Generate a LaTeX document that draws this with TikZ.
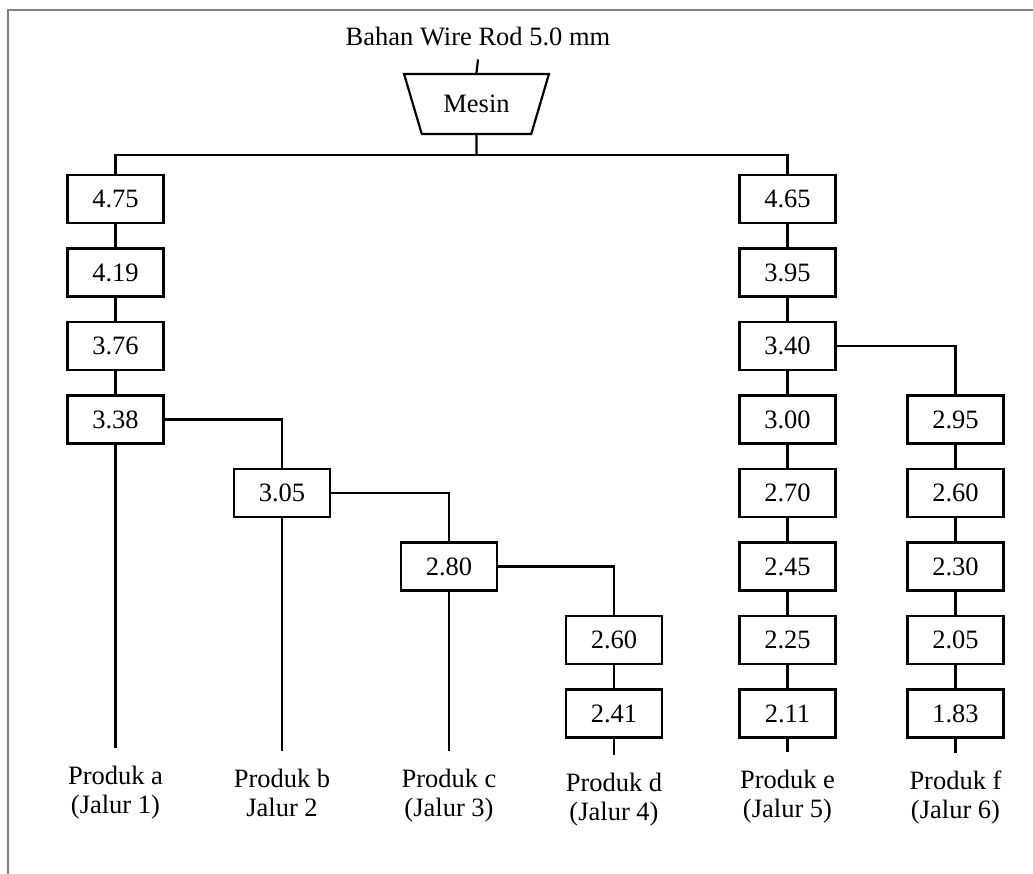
\documentclass[tikz,border=0pt]{standalone}
\usepackage{fontspec}
\setmainfont{Liberation Serif}
\usetikzlibrary{shapes,positioning}

\begin{document}
\begin{tikzpicture}[x=1pt, y=1pt,
sizenode/.style={rectangle, draw=black, line width=2.2pt, minimum width=96pt, minimum height=48pt, inner sep=0pt},
mesinnode/.style={trapezium, trapezium left angle=121, trapezium right angle=121, trapezium stretches=true, draw=black, line width=2.2pt, minimum width=145pt, minimum height=60pt, inner sep=0pt},
prodnode/.style={align=center, anchor=north, inner xsep=2pt, inner ysep=17pt},
every node/.style={font=\fontsize{26.5}{29}\selectfont},
node distance=23.3pt, line width=2.2pt
]
\useasboundingbox (0,0) rectangle (1033,-874);
% Frame
\draw[gray, line width=2.2pt] (1033,-10) -- (8,-10) -- (8,-874);
% Machine
%Nodes
\node[anchor=base, inner ysep=12pt] (bahan) at (478,-46) {Bahan Wire Rod 5.0 mm};
\node[mesinnode]         (mesin)    at (476.5,-104)  {Mesin};
\coordinate              (split)    at (476.5,-155);
% Left path
%Nodes
\node[sizenode]          (a1)       at (115.5,-199)  {4.75};
\node[sizenode]          (a2)       [below=of a1]    {4.19};
\node[sizenode]          (a3)       [below=of a2]    {3.76};
\node[sizenode]          (a4)       [below=of a3]    {3.38};
\node[sizenode]          (b1)       at (282,-493)    {3.05};
\node[sizenode]          (c1)       at (449,-566.5)  {2.80};
\node[sizenode]          (d1)       at (614,-640)    {2.60};
\node[sizenode]          (d2)       [below=of d1]    {2.41};
% Right path
%Nodes
\node[sizenode]          (e1)       at (787.5,-199)  {4.65};
\node[sizenode]          (e2)       [below=of e1]    {3.95};
\node[sizenode]          (e3)       [below=of e2]    {3.40};
\node[sizenode]          (e4)       [below=of e3]    {3.00};
\node[sizenode]          (e5)       [below=of e4]    {2.70};
\node[sizenode]          (e6)       [below=of e5]    {2.45};
\node[sizenode]          (e7)       [below=of e6]    {2.25};
\node[sizenode]          (e8)       [below=of e7]    {2.11};
\node[sizenode]          (f1)       at (955.5,-419.5) {2.95};
\node[sizenode]          (f2)       [below=of f1]    {2.60};
\node[sizenode]          (f3)       [below=of f2]    {2.30};
\node[sizenode]          (f4)       [below=of f3]    {2.05};
\node[sizenode]          (f5)       [below=of f4]    {1.83};
% Products
%Nodes
\node[prodnode]          (pa)       at (115.5,-748)  {Produk a\\(Jalur 1)};
\node[prodnode]          (pb)       at (282,-751)    {Produk b\\Jalur 2};
\node[prodnode]          (pc)       at (449,-751)    {Produk c\\(Jalur 3)};
\node[prodnode]          (pd)       at (614,-755)    {Produk d\\(Jalur 4)};
\node[prodnode]          (pe)       at (787.5,-752)  {Produk e\\(Jalur 5)};
\node[prodnode]          (pf)       at (955.5,-753)  {Produk f\\(Jalur 6)};
%Lines
\draw (bahan.south) -- (mesin.north);
\draw (mesin.south) -- (split);
\draw (a1.north) |- (split) -| (e1.north);
\draw (a1.south) -- (a2.north);
\draw (a2.south) -- (a3.north);
\draw (a3.south) -- (a4.north);
\draw (a4.south) -- (pa.north);
\draw (a4.east) -| (b1.north);
\draw (b1.south) -- (pb.north);
\draw (b1.east) -| (c1.north);
\draw (c1.south) -- (pc.north);
\draw (c1.east) -| (d1.north);
\draw (d1.south) -- (d2.north);
\draw (d2.south) -- (pd.north);
\draw (e1.south) -- (e2.north);
\draw (e2.south) -- (e3.north);
\draw (e3.south) -- (e4.north);
\draw (e4.south) -- (e5.north);
\draw (e5.south) -- (e6.north);
\draw (e6.south) -- (e7.north);
\draw (e7.south) -- (e8.north);
\draw (e8.south) -- (pe.north);
\draw (e3.east) -| (f1.north);
\draw (f1.south) -- (f2.north);
\draw (f2.south) -- (f3.north);
\draw (f3.south) -- (f4.north);
\draw (f4.south) -- (f5.north);
\draw (f5.south) -- (pf.north);


\end{tikzpicture}
\end{document}
